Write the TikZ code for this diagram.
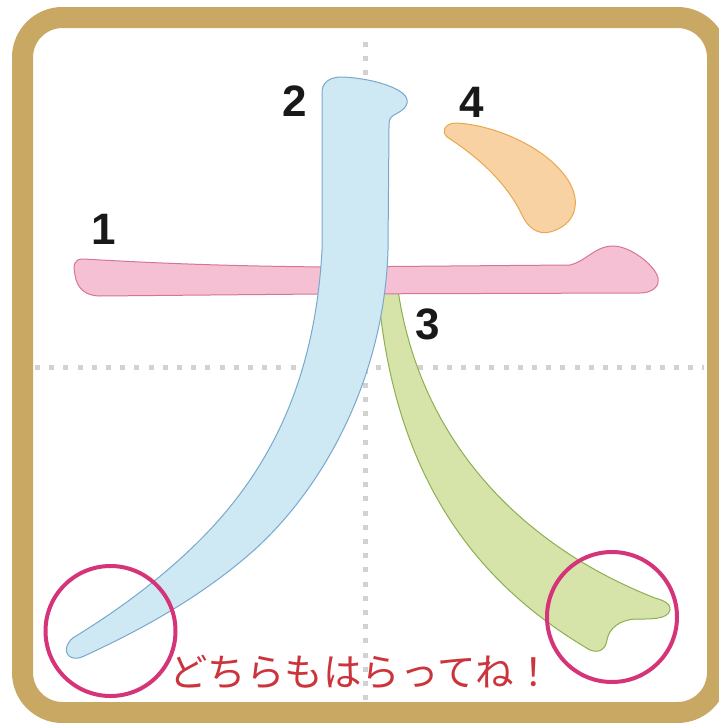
\documentclass[tikz,border=0pt]{standalone}
\usepackage{fontspec}
\usepackage{xcolor}
\usepackage{tikz}
\newfontfamily\numfont{Liberation Sans}
\newfontfamily\jpfont{Noto Sans CJK JP}
\definecolor{goldcol}{RGB}{200,168,98}
\definecolor{gridgray}{RGB}{210,210,210}
\definecolor{pinkfill}{RGB}{245,192,212}
\definecolor{pinkline}{RGB}{214,118,150}
\definecolor{bluefill}{RGB}{206,232,244}
\definecolor{blueline}{RGB}{120,168,205}
\definecolor{greenfill}{RGB}{214,228,170}
\definecolor{greenline}{RGB}{140,176,80}
\definecolor{orangefill}{RGB}{248,210,162}
\definecolor{orangeline}{RGB}{232,168,80}
\definecolor{ringcol}{RGB}{214,52,120}
\definecolor{hintred}{RGB}{204,52,60}

\begin{document}
\begin{tikzpicture}[x=1pt,y=-1pt,
  goldframe/.style={draw=goldcol,line width=21pt,rounded corners=40pt},
  guide/.style={draw=gridgray,line width=5pt,dash pattern=on 5pt off 9.2pt},
  brush/.style={line width=1pt,line join=round},
  num/.style={text=black!90,font=\numfont\bfseries\fontsize{44}{44}\selectfont,inner sep=0pt},
  ring/.style={draw=ringcol,line width=4pt},
  hint/.style={text=hintred,font=\jpfont\fontsize{38.5}{38.5}\selectfont,inner sep=0pt}]
\useasboundingbox (0,0) rectangle (719,723);
\fill[white] (0,0) rectangle (719,723);
\draw[goldframe] (22.5,17.5) rectangle (717.5,712.5);
% guide lines
\draw[guide] (365,42) -- (365,704);
\draw[guide] (35,367) -- (704,367);
% stroke 3
\filldraw[brush,fill=greenfill,draw=greenline] (378,290) .. controls (393,470) and (470,580) .. (590,650)
  .. controls (600,654) and (606,648) .. (607,640) .. controls (609,628) and (620,620) .. (635,619)
  .. controls (648,619) and (668,620) .. (670,610) .. controls (671,603) and (662,600) .. (655,598)
  .. controls (520,545) and (420,440) .. (398,290) -- cycle;
% stroke 1
\filldraw[brush,fill=pinkfill,draw=pinkline] (83,259) .. controls (120,261) and (200,266) .. (330,267) -- (570,265)
  .. controls (585,262) and (595,246) .. (613,246) .. controls (630,246) and (655,265) .. (658,278)
  .. controls (660,288) and (650,293) .. (640,293) -- (320,294) -- (100,296)
  .. controls (85,296) and (77,288) .. (75,275) .. controls (73,265) and (74,259) .. (83,259) -- cycle;
% stroke 2
\filldraw[brush,fill=bluefill,draw=blueline] (322,95) .. controls (321,82) and (330,77) .. (342,77)
  .. controls (370,78) and (400,87) .. (406,97) .. controls (411,106) and (400,112) .. (394,115)
  .. controls (389,118) and (389,121) .. (389,127) -- (388,250)
  .. controls (384,380) and (322,490) .. (252,552) .. controls (195,602) and (130,635) .. (82,657)
  .. controls (72,661) and (64,655) .. (67,646) .. controls (69,641) and (72,638) .. (76,636)
  .. controls (115,612) and (160,580) .. (200,540) .. controls (270,470) and (315,380) .. (322,250) -- cycle;
% stroke 4
\filldraw[brush,fill=orangefill,draw=orangeline] (447,137) .. controls (442,133) and (443,124) .. (455,123)
  .. controls (490,124) and (545,145) .. (568,180) .. controls (582,202) and (576,225) .. (550,232)
  .. controls (538,235) and (528,228) .. (522,215) .. controls (508,185) and (480,158) .. (447,137) -- cycle;
% stroke order
\node[num] (n1) at (104,229) {1};
\node[num] (n2) at (295,101) {2};
\node[num] (n3) at (428,324) {3};
\node[num] (n4) at (472,102) {4};
% sweep ends
\draw[ring] (110.5,631) circle [radius=65pt];
\draw[ring] (612,617) circle [radius=65pt];
\node[hint] (msg) at (361,672) {どちらもはらってね！};
\end{tikzpicture}
\end{document}
